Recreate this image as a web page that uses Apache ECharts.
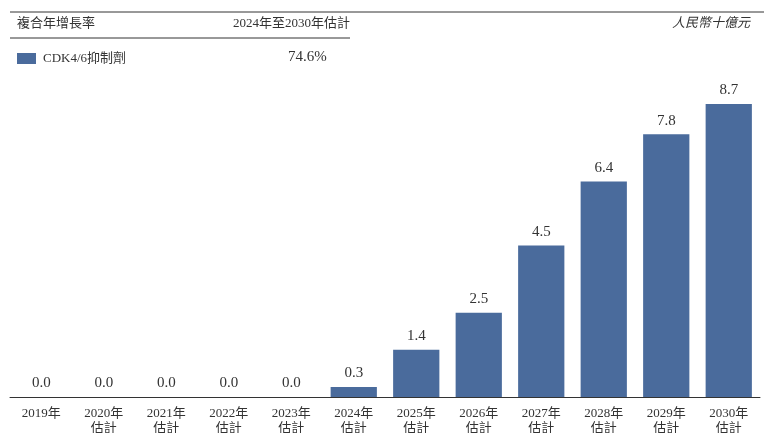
<!DOCTYPE html>
<html><head><meta charset="utf-8">
<script src="https://cdn.jsdelivr.net/npm/echarts@6/dist/echarts.min.js"></script>
<style>html,body{margin:0;padding:0;background:#fff}#c{width:764px;height:433px}</style>
</head><body><div id="c"></div>
<script>
const categories = ['2019年','2020年\n估計','2021年\n估計','2022年\n估計','2023年\n估計','2024年\n估計','2025年\n估計','2026年\n估計','2027年\n估計','2028年\n估計','2029年\n估計','2030年\n估計'];
const values = [0.0,0.0,0.0,0.0,0.0,0.3,1.4,2.5,4.5,6.4,7.8,8.7];
const seriesName = 'CDK4/6抑制劑';
const cagrLabel = '複合年增長率';
const cagrPeriod = '2024年至2030年估計';
const cagrValue = '74.6%';
const unitLabel = '人民幣十億元';

const serif = '"Liberation Serif","Noto Sans CJK TC",serif';
const chart = echarts.init(document.getElementById('c'));
chart.setOption({
  animation: false,
  grid: {left: 10, right: 4, top: 104, bottom: 36, containLabel: false, outerBoundsMode: 'none'},
  legend: {
    data: [seriesName], left: 17, top: 52, padding: 0, itemWidth: 19, itemHeight: 11, icon: 'rect',
    textStyle: {fontFamily: serif, fontSize: 13, color: '#333', padding: [0, 0, 0, 2]}
  },
  xAxis: {
    type: 'category', data: categories,
    axisLine: {lineStyle: {color: '#333', width: 1}},
    axisTick: {show: false},
    axisLabel: {fontFamily: serif, fontSize: 13, color: '#333', lineHeight: 15, margin: 9, interval: 0}
  },
  yAxis: {type: 'value', min: 0, max: 8.7, show: false, splitLine: {show: false}},
  series: [{
    name: seriesName, type: 'bar', data: values, barWidth: '74%',
    itemStyle: {color: '#4a6b9c'},
    label: {show: true, position: 'top', distance: 6, fontFamily: serif, fontSize: 15, color: '#333',
      formatter: p => p.value.toFixed(1)}
  }],
  graphic: [
    {type: 'line', shape: {x1: 10, y1: 12, x2: 764, y2: 12}, style: {stroke: '#333', lineWidth: 1}},
    {type: 'line', shape: {x1: 10, y1: 38, x2: 350, y2: 38}, style: {stroke: '#333', lineWidth: 1}},
    {type: 'text', left: 17, top: 17, style: {text: cagrLabel, font: '13px ' + serif, fill: '#333'}},
    {type: 'text', right: 414, top: 17, style: {text: cagrPeriod, font: '13px ' + serif, fill: '#333'}},
    {type: 'text', right: 14, top: 17, style: {text: unitLabel, font: 'italic 13px ' + serif, fill: '#333'}},
    {type: 'text', left: 288, top: 50, style: {text: cagrValue, font: '15px ' + serif, fill: '#333'}}
  ]
});
</script></body></html>
